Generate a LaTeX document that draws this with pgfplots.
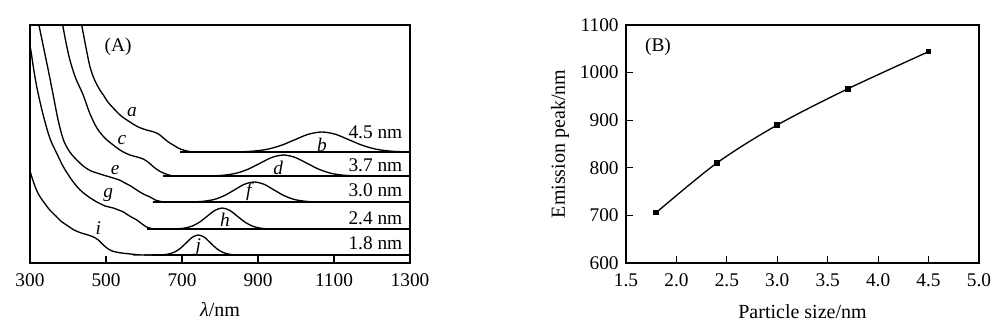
\documentclass[border=0pt]{standalone}
\usepackage{fontspec}
\setmainfont{Liberation Serif}
\usepackage{pgfplots}
\pgfplotsset{compat=1.18}
\begin{document}
\begin{tikzpicture}[font=\fontsize{14.5}{17}\selectfont]
\path[use as bounding box] (0,0) rectangle (755.25pt,244.5pt);
\pgfplotsset{
  every axis/.append style={
    scale only axis,
    axis line style={line width=0.8pt},
    tick style={line width=0.8pt, black},
    tick align=inside,
    major tick length=5pt,
    /pgf/number format/assume math mode=true,
    /pgf/number format/1000 sep={},
    tick label style={font=\fontsize{14.5}{17}\selectfont},
    label style={font=\fontsize{15}{17}\selectfont},
    clip mode=individual,
  }
}
% ---------------- Panel A ----------------
\begin{axis}[at={(22.5pt,47.25pt)}, anchor=south west,
  width=285pt, height=178.5pt,
  xmin=300, xmax=1300, ymin=0, ymax=238,
  xtick={300,500,700,900,1100,1300}, ytick=\empty,
  xtick pos=bottom,
  xticklabel style={yshift=-4.5pt},
  xlabel={\textit{λ}/nm},
  xlabel style={at={(axis description cs:0.5,-0.197)}, anchor=center},
]
% absorption curves
\addplot[black, line width=1pt, smooth] coordinates {
(428,252) (436,238) (447,216) (458,196) (470,183) (484,173) (493,168) (505,161) (519,155) (540,147) (563,141) (585,136) (607,133) (622,131.5) (633,130) (642,128) (651,125) (664,121) (677,118) (690,115) (703,113) (720,111.5) (747,111) (800,111) (1300,111)};
\addplot[black, line width=1pt, smooth] coordinates {
(381,250) (386,238) (395,220) (405,203) (420,185) (440,168) (457,150) (476,135) (497,125) (519,118) (541,112) (563,108) (582,106) (598,104) (612,100.5) (624,96.5) (638,92.5) (651,90) (665,88) (677,87) (700,87) (1300,87)};
\addplot[black, line width=1pt, smooth] coordinates {
(320,245) (324,237) (336,215) (348,193) (360,170) (374,143) (388,123) (403,112) (418,105) (440,97) (458,92.5) (476,90) (497,87.5) (519,85) (535,83) (550,80) (565,77) (581,73) (598,69) (616,66) (630,63) (645,61.5) (670,61) (1300,61)};
\addplot[black, line width=1pt, smooth] coordinates {
(300,217) (303,211) (310,193) (320,172) (336,146) (353,124) (370,110) (388,96) (410,83) (432,73) (455,66) (476,61) (498,57) (519,55) (533,53) (546,51) (562,47) (581,43) (595,39) (607,36) (620,34.5) (633,34) (660,34) (1300,34)};
\addplot[black, line width=1pt, smooth] coordinates {
(300,92) (310,80) (322,69) (336,61) (352,53) (368,47) (381,42) (400,37) (416,33) (435,30) (453,28) (467,26) (480,23) (493,18) (506,14) (520,11.5) (541,10) (565,9) (594,8) (620,8) (1300,8)};
% emission curves
\addplot[black, line width=1pt, smooth] coordinates {
(780,111) (852,111.2) (888,111.9) (924,113.7) (960,117.5) (996,123.1) (1032,128.7) (1068,131) (1104,128.7) (1140,123.1) (1176,117.5) (1212,113.7) (1248,111.9) (1284,111.2) (1300,111)};
\addplot[black, line width=1pt, smooth] coordinates {
(720,87) (781,87.2) (812,87.9) (843,89.8) (874,93.8) (905,99.7) (936,105.5) (967,108) (998,105.5) (1029,99.7) (1060,93.8) (1091,89.8) (1122,87.9) (1153,87.2) (1220,87)};
\addplot[black, line width=1pt, smooth] coordinates {
(680,61) (734,61.2) (760,61.9) (786,63.7) (812,67.5) (838,73.1) (864,78.7) (890,81) (916,78.7) (942,73.1) (968,67.5) (994,63.7) (1020,61.9) (1046,61.2) (1100,61)};
\addplot[black, line width=1pt, smooth] coordinates {
(640,34) (686,34.2) (706,34.9) (726,36.8) (746,40.8) (766,46.7) (786,52.5) (806,55) (826,52.5) (846,46.7) (866,40.8) (886,36.8) (906,34.9) (926,34.2) (980,34)};
\addplot[black, line width=1pt, smooth] coordinates {
(600,8) (647,8.2) (663,8.9) (679,10.7) (695,14.5) (711,20.1) (727,25.7) (743,28) (759,25.7) (775,20.1) (791,14.5) (807,10.7) (823,8.9) (839,8.2) (900,8)};
% baselines
\addplot[black, line width=1.3pt] coordinates {(695,111) (1300,111)};
\addplot[black, line width=1.3pt] coordinates {(650,87) (1300,87)};
\addplot[black, line width=1.3pt] coordinates {(624,61) (1300,61)};
\addplot[black, line width=1.3pt] coordinates {(607,34) (1300,34)};
\addplot[black, line width=1.3pt] coordinates {(620,8) (1300,8)};
% labels
\node at (axis cs:532,216) {(A)};
\node at (axis cs:568,151) {\textit{a}};
\node at (axis cs:542,123) {\textit{c}};
\node at (axis cs:524,93) {\textit{e}};
\node at (axis cs:506,68) {\textit{g}};
\node at (axis cs:480,35) {\textit{i}};
\node at (axis cs:1068,118) {\textit{b}};
\node at (axis cs:953,95) {\textit{d}};
\node at (axis cs:879,71) {\textit{f}};
\node at (axis cs:813,43) {\textit{h}};
\node at (axis cs:743,16) {\textit{j}};
\node[anchor=east] at (axis cs:1292,131) {4.5 nm};
\node[anchor=east] at (axis cs:1292,98) {3.7 nm};
\node[anchor=east] at (axis cs:1292,73) {3.0 nm};
\node[anchor=east] at (axis cs:1292,45) {2.4 nm};
\node[anchor=east] at (axis cs:1292,20) {1.8 nm};
\end{axis}
% ---------------- Panel B ----------------
\begin{axis}[at={(469.5pt,47.25pt)}, anchor=south west,
  width=264.75pt, height=178.5pt,
  xmin=1.5, xmax=5, ymin=600, ymax=1100,
  xtick={1.5,2.0,2.5,3.0,3.5,4.0,4.5,5.0},
  ytick={600,700,800,900,1000,1100},
  xtick pos=bottom, ytick pos=left,
  xticklabel style={/pgf/number format/.cd, fixed, fixed zerofill, precision=1, /tikz/.cd, yshift=-4.5pt},
  yticklabel style={xshift=-2pt},
  xlabel={Particle size/nm},
  ylabel={Emission peak/nm},
  xlabel style={at={(axis description cs:0.5,-0.203)}, anchor=center},
  ylabel style={at={(axis description cs:-0.187,0.5)}, anchor=center},
]
\addplot[black, line width=1pt, smooth, mark=square*, mark size=1.6pt, mark options={solid}] coordinates {
(1.8,706) (2.4,810) (3.0,890) (3.7,966) (4.5,1044)};
\node at (axis cs:1.817,1054) {(B)};
\end{axis}
\end{tikzpicture}
\end{document}
